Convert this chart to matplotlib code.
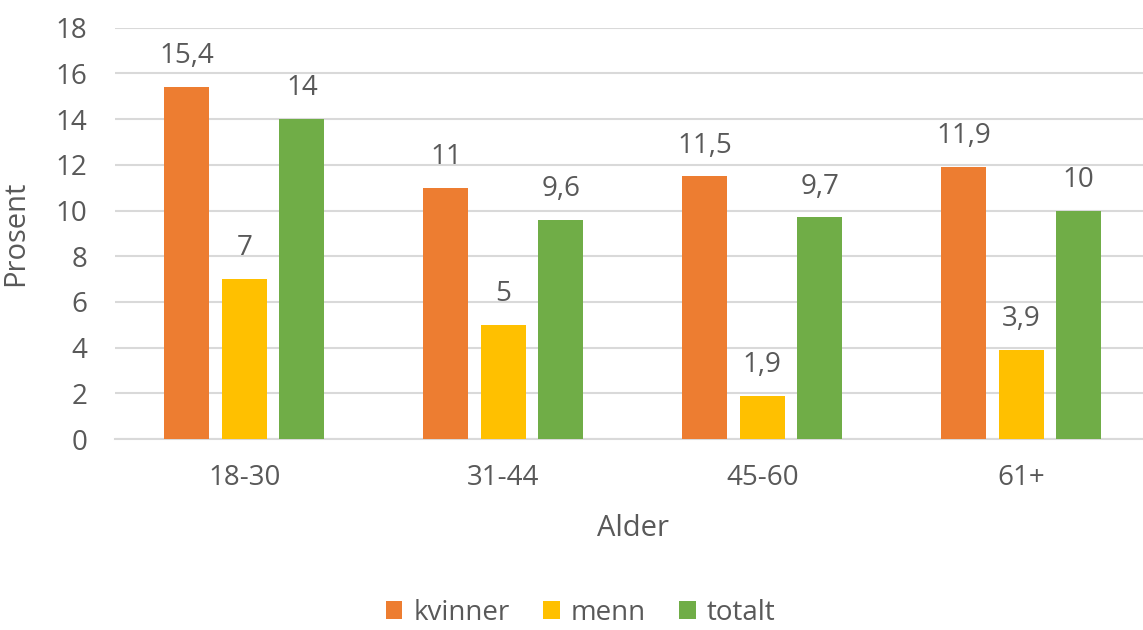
import numpy as np
import matplotlib.pyplot as plt

plt.rcParams['font.family'] = ['Open Sans', 'DejaVu Sans']

groups = ['18-30', '31-44', '45-60', '61+']
kvinner = [15.4, 11, 11.5, 11.9]
menn = [7, 5, 1.9, 3.9]
totalt = [14, 9.6, 9.7, 10]
series = [('kvinner', kvinner, '#ED7D31'),
          ('menn', menn, '#FFC000'),
          ('totalt', totalt, '#70AD47')]

txt = '#595959'
fs = 20
fig = plt.figure(figsize=(11.43, 6.3), dpi=100)
ax = fig.add_axes([0.1006, 0.303, 0.906, 0.653])

x = np.arange(len(groups))
w = 0.174
step = 0.222
for i, (name, vals, col) in enumerate(series):
    bars = ax.bar(x + (i - 1) * step, vals, w, color=col, label=name, zorder=3)
    ax.bar_label(bars, labels=[f'{v:g}'.replace('.', ',') for v in vals],
                 padding=12, fontsize=fs, color=txt)

ax.set_xlim(-0.5, len(groups) - 0.5)
ax.set_ylim(0, 18)
ax.set_yticks(range(0, 19, 2))
ax.set_xticks(x)
ax.set_xticklabels(groups)
ax.grid(axis='y', color='#D9D9D9', linewidth=1.5, zorder=0)
for s in ['top', 'right', 'left']:
    ax.spines[s].set_visible(False)
ax.spines['bottom'].set_color('#D9D9D9')
ax.spines['bottom'].set_linewidth(1.5)
ax.tick_params(axis='both', length=0, labelsize=fs, labelcolor=txt)
ax.tick_params(axis='x', pad=18)
ax.tick_params(axis='y', pad=20)
ax.set_xlabel('Alder', fontsize=21, color=txt, labelpad=16)
ax.set_ylabel('Prosent', fontsize=21, color=txt)
ax.yaxis.set_label_coords(-0.082, 0.5)

fig.legend(loc='center', bbox_to_anchor=(0.508, 0.027), ncol=3, frameon=False,
           fontsize=fs, labelcolor=txt, handlelength=0.6, handleheight=0.6,
           handletextpad=0.4, columnspacing=1.2, borderpad=0.1)

fig.savefig('out.png', dpi=100)
